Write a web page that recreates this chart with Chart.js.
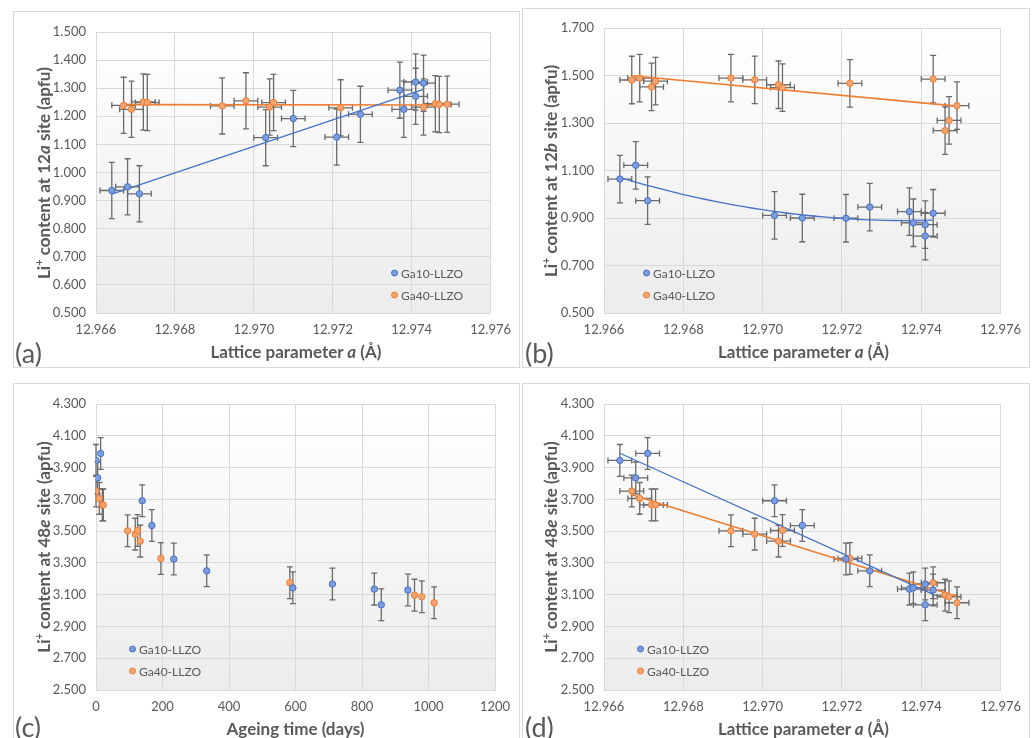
<!DOCTYPE html>
<html>
<head>
<meta charset="utf-8">
<script src="https://cdn.jsdelivr.net/npm/chart.js@4.4.0/dist/chart.umd.min.js"></script>
<style>
  body { margin: 0; width: 1035px; height: 738px; position: relative; overflow: hidden; background: #fff; font-family: Lato, "Open Sans", sans-serif; }
  .box { position: absolute; border: 1px solid #d9d9d9; box-sizing: border-box; pointer-events: none; }
  canvas { position: absolute; }
  .txt { position: absolute; color: #595959; white-space: nowrap; }
  .ytitle { transform: translate(-50%, -50%) rotate(-90deg); font-weight: bold; font-size: 17px; }
  .xtitle { transform: translate(-50%, -50%); font-weight: bold; font-size: 17px; }
  .tag { font-size: 27px; transform: translateY(-50%); }
  .leg { font-size: 12px; transform: translateY(-50%); }
  .dot { display: inline-block; width: 5px; height: 5px; border-radius: 50%; margin-right: 3px; vertical-align: 1px; border: 1px solid; }
  sup { font-size: 11px; }
</style>
</head>
<body>
<script>
// Ga10-LLZO samples
const ga10Lattice = [12.9664, 12.9668, 12.9671, 12.9703, 12.9710, 12.9721, 12.9727, 12.9737, 12.9738, 12.9741, 12.9741, 12.9743];
const ga10Days = [0, 5, 14, 139, 168, 234, 333, 837, 592, 711, 858, 938];
const ga10Site12a = [0.936, 0.949, 0.924, 1.124, 1.192, 1.126, 1.207, 1.293, 1.225, 1.322, 1.271, 1.318];
const ga10Site12b = [1.064, 1.122, 0.973, 0.911, 0.900, 0.899, 0.946, 0.927, 0.880, 0.872, 0.824, 0.920];
const ga10Site48e = [3.945, 3.835, 3.989, 3.691, 3.535, 3.324, 3.250, 3.135, 3.143, 3.167, 3.036, 3.129];

// Ga40-LLZO samples
const ga40Lattice = [12.9667, 12.9669, 12.9672, 12.9673, 12.9692, 12.9698, 12.9704, 12.9705, 12.9722, 12.9743, 12.9746, 12.9747, 12.9749];
const ga40Days = [0, 10, 19, 22, 95, 118, 133, 125, 195, 583, 958, 980, 1017];
const ga40Site12a = [1.239, 1.225, 1.251, 1.249, 1.237, 1.255, 1.233, 1.249, 1.230, 1.233, 1.245, 1.242, 1.243];
const ga40Site12b = [1.481, 1.489, 1.452, 1.476, 1.489, 1.482, 1.461, 1.449, 1.467, 1.485, 1.268, 1.311, 1.373];
const ga40Site48e = [3.752, 3.706, 3.665, 3.665, 3.502, 3.481, 3.437, 3.504, 3.328, 3.175, 3.097, 3.087, 3.049];

const latticeErr = 0.0003;
const contentErr = 0.1;
const seriesNames = ["Ga10-LLZO", "Ga40-LLZO"];

const BLUE = "#4472c4", BLUE_FILL = "#7d9be0";
const ORANGE = "#ed7d31", ORANGE_FILL = "#f5a470";
const YW = 60, XH = 30;

function pts(xs, ys) {
  return xs.map((x, i) => ({ x: x, y: ys[i] }));
}

function linFit(xs, ys) {
  const n = xs.length;
  const mx = xs.reduce((a, b) => a + b, 0) / n;
  const my = ys.reduce((a, b) => a + b, 0) / n;
  let sxy = 0, sxx = 0;
  xs.forEach((x, i) => { sxy += (x - mx) * (ys[i] - my); sxx += (x - mx) * (x - mx); });
  const k = sxy / sxx;
  const lo = Math.min(...xs), hi = Math.max(...xs);
  return [{ x: lo, y: my + k * (lo - mx) }, { x: hi, y: my + k * (hi - mx) }];
}

// 2nd order polynomial, x centred to keep it stable
function quadFit(xs, ys) {
  const n = xs.length;
  const mx = xs.reduce((a, b) => a + b, 0) / n;
  const u = xs.map(x => (x - mx) * 1000);
  const s = [0, 0, 0, 0, 0], t = [0, 0, 0];
  u.forEach((v, i) => {
    for (let p = 0; p < 5; p++) s[p] += Math.pow(v, p);
    for (let p = 0; p < 3; p++) t[p] += ys[i] * Math.pow(v, p);
  });
  const m = [[s[0], s[1], s[2], t[0]], [s[1], s[2], s[3], t[1]], [s[2], s[3], s[4], t[2]]];
  for (let c = 0; c < 3; c++) {
    for (let r = c + 1; r < 3; r++) {
      const f = m[r][c] / m[c][c];
      for (let k = c; k < 4; k++) m[r][k] -= f * m[c][k];
    }
  }
  const co = [0, 0, 0];
  for (let r = 2; r >= 0; r--) {
    let v = m[r][3];
    for (let k = r + 1; k < 3; k++) v -= m[r][k] * co[k];
    co[r] = v / m[r][r];
  }
  const lo = Math.min(...xs), hi = Math.max(...xs);
  const out = [];
  for (let i = 0; i <= 40; i++) {
    const x = lo + (hi - lo) * i / 40;
    const v = (x - mx) * 1000;
    out.push({ x: x, y: co[0] + co[1] * v + co[2] * v * v });
  }
  return out;
}

function scatterSet(name, xs, ys, color, fill, xErr) {
  return {
    label: name, data: pts(xs, ys), backgroundColor: fill, borderColor: color,
    pointRadius: 3.2, borderWidth: 1, xErr: xErr, yErr: contentErr
  };
}

function trendSet(data, color, w) {
  return {
    data: data, showLine: true, pointRadius: 0, borderColor: color, borderWidth: w,
    backgroundColor: color, fill: false, tension: 0
  };
}

const plotBg = {
  id: "plotBg",
  beforeDraw(chart) {
    const { ctx, chartArea: a } = chart;
    const g = ctx.createLinearGradient(0, a.top, 0, a.bottom);
    g.addColorStop(0, "#ffffff");
    g.addColorStop(1, "#ececec");
    ctx.save();
    ctx.fillStyle = g;
    ctx.fillRect(a.left, a.top, a.right - a.left, a.bottom - a.top);
    ctx.restore();
  }
};

const errorBars = {
  id: "errorBars",
  beforeDatasetsDraw(chart) {
    const { ctx, scales: { x, y } } = chart;
    ctx.save();
    ctx.strokeStyle = "#6b6b6b";
    ctx.lineWidth = 1.3;
    const cap = 3;
    chart.data.datasets.forEach(ds => {
      if (!ds.yErr) return;
      ds.data.forEach(p => {
        const px = x.getPixelForValue(p.x), py = y.getPixelForValue(p.y);
        const y0 = y.getPixelForValue(p.y - ds.yErr), y1 = y.getPixelForValue(p.y + ds.yErr);
        ctx.beginPath();
        ctx.moveTo(px, y0); ctx.lineTo(px, y1);
        ctx.moveTo(px - cap, y0); ctx.lineTo(px + cap, y0);
        ctx.moveTo(px - cap, y1); ctx.lineTo(px + cap, y1);
        if (ds.xErr) {
          const x0 = x.getPixelForValue(p.x - ds.xErr), x1 = x.getPixelForValue(p.x + ds.xErr);
          ctx.moveTo(x0, py); ctx.lineTo(x1, py);
          ctx.moveTo(x0, py - cap); ctx.lineTo(x0, py + cap);
          ctx.moveTo(x1, py - cap); ctx.lineTo(x1, py + cap);
        }
        ctx.stroke();
      });
    });
    ctx.restore();
  }
};

function addText(cls, x, y, html) {
  const d = document.createElement("div");
  d.className = "txt " + cls;
  d.style.left = x + "px";
  d.style.top = y + "px";
  d.innerHTML = html;
  document.body.appendChild(d);
}

function makePanel(p) {
  const cv = document.createElement("canvas");
  cv.width = p.box.w; cv.height = p.box.h;
  cv.style.left = p.box.x + "px"; cv.style.top = p.box.y + "px";
  document.body.appendChild(cv);
  const b = document.createElement("div");
  b.className = "box";
  b.style.left = p.box.x + "px"; b.style.top = p.box.y + "px";
  b.style.width = p.box.w + "px"; b.style.height = p.box.h + "px";
  document.body.appendChild(b);

  const tickFont = { family: "Lato", size: 13 };
  new Chart(cv, {
    type: "scatter",
    data: { datasets: p.datasets },
    options: {
      responsive: false, animation: false, devicePixelRatio: 1,
      layout: { padding: {
        left: p.plot.l - p.box.x - YW, top: p.plot.t - p.box.y,
        right: p.box.x + p.box.w - p.plot.r, bottom: p.box.y + p.box.h - p.plot.b - XH
      } },
      plugins: { legend: { display: false }, tooltip: { enabled: false } },
      scales: {
        x: {
          type: "linear", min: p.xMin, max: p.xMax,
          afterFit: s => { s.height = XH; },
          ticks: { stepSize: p.xStep, maxRotation: 0, autoSkip: false, padding: 9, color: "#595959", font: tickFont,
            callback: v => p.xDec ? v.toFixed(p.xDec) : Math.round(v) },
          grid: { color: "#d9d9d9", drawTicks: false },
          border: { color: "#d9d9d9" }
        },
        y: {
          min: p.yMin, max: p.yMax,
          afterFit: s => { s.width = YW; },
          ticks: { stepSize: p.yStep, padding: 10, color: "#595959", font: tickFont, callback: v => v.toFixed(3) },
          grid: { color: "#d9d9d9", drawTicks: false },
          border: { color: "#d9d9d9" }
        }
      }
    },
    plugins: [plotBg, errorBars]
  });

  addText("ytitle", p.yTitleX, (p.plot.t + p.plot.b) / 2, p.yTitle);
  addText("xtitle", (p.plot.l + p.plot.r) / 2, p.xTitleY, p.xTitle);
  addText("tag", p.tag.x, p.tag.y, p.tag.text);
  addText("leg", p.leg.x, p.leg.y, '<span class="dot" style="background:' + BLUE_FILL + ';border-color:' + BLUE + '"></span>' + seriesNames[0]);
  addText("leg", p.leg.x, p.leg.y + 22, '<span class="dot" style="background:' + ORANGE_FILL + ';border-color:' + ORANGE + '"></span>' + seriesNames[1]);
}

const latticeTitle = "Lattice parameter <i>a</i> (&Aring;)";

makePanel({
  box: { x: 13, y: 11, w: 507, h: 357 }, plot: { l: 96, r: 496, t: 32, b: 313 },
  xMin: 12.966, xMax: 12.976, xStep: 0.002, xDec: 3, yMin: 0.5, yMax: 1.5, yStep: 0.1,
  yTitle: "Li<sup>+</sup> content at 12<i>a</i> site (apfu)", yTitleX: 43,
  xTitle: latticeTitle, xTitleY: 351, tag: { x: 15, y: 352, text: "(a)" }, leg: { x: 391, y: 273 },
  datasets: [
    scatterSet(seriesNames[0], ga10Lattice, ga10Site12a, BLUE, BLUE_FILL, latticeErr),
    scatterSet(seriesNames[1], ga40Lattice, ga40Site12a, ORANGE, ORANGE_FILL, latticeErr),
    trendSet(linFit(ga10Lattice, ga10Site12a), BLUE, 1.3),
    trendSet(linFit(ga40Lattice, ga40Site12a), ORANGE, 1.6)
  ]
});

makePanel({
  box: { x: 522, y: 8, w: 508, h: 360 }, plot: { l: 604, r: 1003, t: 28, b: 313 },
  xMin: 12.966, xMax: 12.976, xStep: 0.002, xDec: 3, yMin: 0.5, yMax: 1.7, yStep: 0.2,
  yTitle: "Li<sup>+</sup> content at 12<i>b</i> site (apfu)", yTitleX: 550,
  xTitle: latticeTitle, xTitleY: 351, tag: { x: 525, y: 352, text: "(b)" }, leg: { x: 643, y: 273 },
  datasets: [
    scatterSet(seriesNames[0], ga10Lattice, ga10Site12b, BLUE, BLUE_FILL, latticeErr),
    scatterSet(seriesNames[1], ga40Lattice, ga40Site12b, ORANGE, ORANGE_FILL, latticeErr),
    trendSet(quadFit(ga10Lattice, ga10Site12b), BLUE, 1.3),
    trendSet(linFit(ga40Lattice, ga40Site12b), ORANGE, 1.6)
  ]
});

makePanel({
  box: { x: 13, y: 383, w: 507, h: 360 }, plot: { l: 96, r: 495, t: 404, b: 690 },
  xMin: 0, xMax: 1200, xStep: 200, xDec: 0, yMin: 2.5, yMax: 4.3, yStep: 0.2,
  yTitle: "Li<sup>+</sup> content at 48<i>e</i> site (apfu)", yTitleX: 43,
  xTitle: "Ageing time (days)", xTitleY: 728, tag: { x: 15, y: 726, text: "(c)" }, leg: { x: 129, y: 649 },
  datasets: [
    scatterSet(seriesNames[0], ga10Days, ga10Site48e, BLUE, BLUE_FILL, 0),
    scatterSet(seriesNames[1], ga40Days, ga40Site48e, ORANGE, ORANGE_FILL, 0)
  ]
});

makePanel({
  box: { x: 522, y: 383, w: 508, h: 360 }, plot: { l: 604, r: 1003, t: 404, b: 690 },
  xMin: 12.966, xMax: 12.976, xStep: 0.002, xDec: 3, yMin: 2.5, yMax: 4.3, yStep: 0.2,
  yTitle: "Li<sup>+</sup> content at 48<i>e</i> site (apfu)", yTitleX: 550,
  xTitle: latticeTitle, xTitleY: 728, tag: { x: 525, y: 726, text: "(d)" }, leg: { x: 637, y: 649 },
  datasets: [
    scatterSet(seriesNames[0], ga10Lattice, ga10Site48e, BLUE, BLUE_FILL, latticeErr),
    scatterSet(seriesNames[1], ga40Lattice, ga40Site48e, ORANGE, ORANGE_FILL, latticeErr),
    trendSet(linFit(ga10Lattice, ga10Site48e), BLUE, 1.3),
    trendSet(linFit(ga40Lattice, ga40Site48e), ORANGE, 1.6)
  ]
});
</script>
</body>
</html>
